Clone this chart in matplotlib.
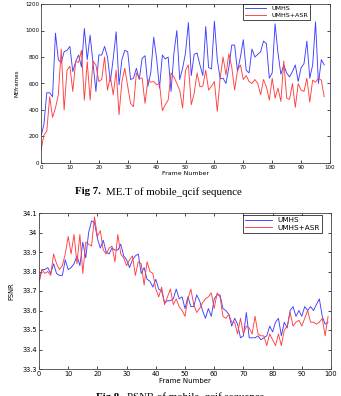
import matplotlib
matplotlib.use("Agg")
import matplotlib.pyplot as plt

# ---- Fig 7: motion estimation time (ME frames) ----
frames_met = list(range(0, 99))
met_umhs = [200, 290, 530, 530, 500, 980, 780, 755, 840, 850,
            880, 690, 765, 815, 725, 1015, 780, 965, 755, 540,
            815, 815, 880, 800, 615, 790, 990, 590, 780, 850,
            840, 630, 640, 715, 630, 790, 810, 580, 685, 950,
            790, 565, 815, 785, 800, 540, 830, 1000, 630, 715,
            830, 1060, 660, 820, 830, 740, 660, 1030, 720, 710,
            1070, 780, 635, 640, 600, 720, 890, 890, 690, 800,
            930, 700, 680, 860, 800, 820, 840, 920, 900, 640,
            680, 1050, 830, 670, 740, 680, 650, 690, 740, 615,
            720, 750, 920, 640, 740, 1065, 600, 780, 740]
met_asr = [95, 210, 240, 500, 345, 415, 515, 860, 400, 700,
           730, 540, 765, 760, 850, 475, 765, 475, 770, 740,
           615, 630, 800, 550, 650, 515, 700, 365, 615, 715,
           580, 450, 425, 680, 640, 640, 450, 630, 610, 615,
           590, 600, 395, 440, 475, 680, 650, 600, 550, 415,
           700, 740, 440, 525, 680, 575, 580, 700, 550, 580,
           615, 390, 640, 800, 665, 825, 725, 550, 700, 740,
           630, 660, 615, 600, 630, 600, 515, 630, 575, 475,
           640, 490, 565, 465, 770, 490, 480, 600, 420, 600,
           550, 540, 640, 460, 625, 610, 640, 625, 500]

# ---- Fig 8: PSNR ----
frames_psnr = list(range(0, 100))
psnr_umhs = [33.75, 33.81, 33.81, 33.82, 33.79, 33.84, 33.79, 33.78, 33.78, 33.86,
             33.81, 33.82, 33.84, 33.88, 33.83, 33.95, 33.87, 34.00, 34.06, 34.05,
             33.97, 33.92, 33.96, 33.90, 33.89, 33.92, 33.91, 33.91, 33.94, 33.88,
             33.86, 33.82, 33.86, 33.88, 33.89, 33.79, 33.82, 33.76, 33.75, 33.72,
             33.76, 33.71, 33.70, 33.64, 33.65, 33.65, 33.66, 33.71, 33.66, 33.67,
             33.61, 33.67, 33.62, 33.62, 33.68, 33.65, 33.60, 33.56, 33.61, 33.57,
             33.66, 33.68, 33.68, 33.61, 33.60, 33.58, 33.52, 33.56, 33.53, 33.46,
             33.47, 33.59, 33.46, 33.46, 33.46, 33.47, 33.45, 33.46, 33.47, 33.52,
             33.49, 33.54, 33.56, 33.47, 33.54, 33.51, 33.60, 33.62, 33.57, 33.60,
             33.57, 33.62, 33.60, 33.62, 33.60, 33.63, 33.66, 33.57, 33.53, 33.54]
psnr_asr = [33.74, 33.81, 33.79, 33.80, 33.78, 33.89, 33.84, 33.81, 33.83, 33.89,
            33.98, 33.89, 33.99, 33.84, 33.99, 33.79, 33.95, 33.94, 33.93, 34.08,
            33.98, 34.01, 33.91, 33.89, 33.92, 33.93, 33.85, 33.99, 33.89, 33.87,
            33.83, 33.86, 33.88, 33.78, 33.85, 33.84, 33.73, 33.85, 33.80, 33.79,
            33.71, 33.67, 33.72, 33.63, 33.67, 33.71, 33.63, 33.66, 33.62, 33.60,
            33.57, 33.66, 33.71, 33.63, 33.59, 33.61, 33.64, 33.66, 33.67, 33.69,
            33.61, 33.69, 33.67, 33.57, 33.56, 33.58, 33.54, 33.54, 33.48, 33.56,
            33.48, 33.52, 33.51, 33.48, 33.57, 33.48, 33.47, 33.47, 33.42, 33.48,
            33.45, 33.42, 33.48, 33.42, 33.50, 33.52, 33.59, 33.52, 33.54, 33.55,
            33.52, 33.56, 33.60, 33.54, 33.54, 33.53, 33.54, 33.56, 33.47, 33.57]

series_labels = ["UMHS", "UMHS+ASR"]
x_ticks = [0, 10, 20, 30, 40, 50, 60, 70, 80, 90, 100]
met_yticks = [0, 200, 400, 600, 800, 1000, 1200]
psnr_yticks = [33.3, 33.4, 33.5, 33.6, 33.7, 33.8, 33.9, 34.0, 34.1]
psnr_yticklabels = ["33.3", "33.4", "33.5", "33.6", "33.7", "33.8", "33.9", "34", "34.1"]

BLUE = "#3f3fff"
RED = "#ff3f3f"

plt.rcParams["font.family"] = "DejaVu Sans"

fig = plt.figure(figsize=(3.41, 3.96), dpi=100)


def style_axes(ax, fs):
    ax.tick_params(direction="in", length=2, width=0.5, labelsize=fs,
                   top=True, right=True, pad=1.5)
    for s in ax.spines.values():
        s.set_linewidth(0.6)
        s.set_color("#444444")


def caption(x0, y, bold, rest):
    # bold "Fig N." then normal text right after it
    t = fig.text(x0, y, bold, fontsize=7.8, fontweight="bold", ha="left",
                 va="center", family="Liberation Serif")
    fig.canvas.draw()
    bb = t.get_window_extent()
    fig.text(bb.x1 / fig.bbox.width + 0.014, y, rest, fontsize=7.8,
             ha="left", va="center", family="Liberation Serif")


# top chart
ax1 = fig.add_axes([41 / 341, 1 - 163 / 396, 289 / 341, 159 / 396])
ax1.plot(frames_met, met_umhs, color=BLUE, lw=0.65, label=series_labels[0])
ax1.plot(frames_met, met_asr, color=RED, lw=0.65, label=series_labels[1])
ax1.set_xlim(0, 100)
ax1.set_ylim(0, 1200)
ax1.set_xticks(x_ticks)
ax1.set_yticks(met_yticks)
style_axes(ax1, 4)
ax1.set_xlabel("Frame Number", fontsize=4.5, labelpad=1)
ax1.set_ylabel("MEframes", fontsize=4, labelpad=4)
ax1.legend(loc="upper right", bbox_to_anchor=(0.931, 1.0), fontsize=4.6,
           frameon=True, fancybox=False, edgecolor="black", borderpad=0.3,
           handlelength=3.4, labelspacing=0.2, borderaxespad=0.0,
           framealpha=1).get_frame().set_linewidth(0.5)

caption(75 / 341, 1 - 192 / 396, "Fig 7.", "ME.T of mobile_qcif sequence")

# bottom chart
ax2 = fig.add_axes([39 / 341, 1 - 369 / 396, 292 / 341, 156 / 396])
ax2.plot(frames_psnr, psnr_umhs, color=BLUE, lw=0.65, label=series_labels[0])
ax2.plot(frames_psnr, psnr_asr, color=RED, lw=0.65, label=series_labels[1])
ax2.set_xlim(0, 100)
ax2.set_ylim(33.3, 34.1)
ax2.set_xticks(x_ticks)
ax2.set_yticks(psnr_yticks)
ax2.set_yticklabels(psnr_yticklabels)
style_axes(ax2, 4.8)
ax2.set_xlabel("Frame Number", fontsize=5, labelpad=1)
ax2.set_ylabel("PSNR", fontsize=4.8, labelpad=6)
ax2.legend(loc="upper right", bbox_to_anchor=(0.969, 0.987), fontsize=5.2,
           frameon=True, fancybox=False, edgecolor="black", borderpad=0.3,
           handlelength=3.7, labelspacing=0.2, borderaxespad=0.0,
           framealpha=1).get_frame().set_linewidth(0.5)

caption(96 / 341, 1 - 397 / 396, "Fig 8.", "PSNR of mobile_qcif sequence")

fig.savefig("out.png", dpi=100)
